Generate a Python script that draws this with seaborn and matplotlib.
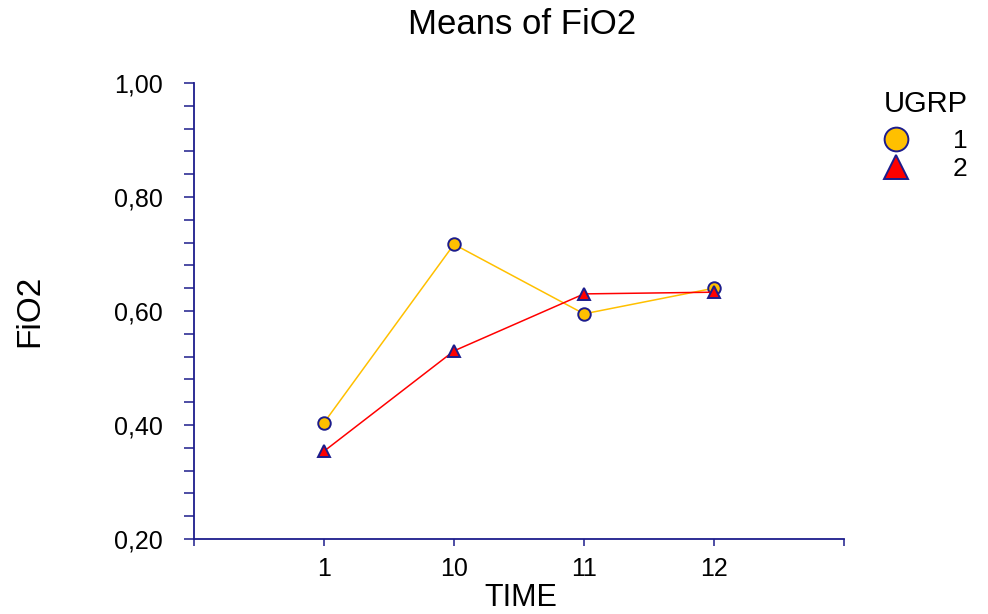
import matplotlib
matplotlib.use("Agg")
import matplotlib.pyplot as plt
from matplotlib.ticker import MultipleLocator, FuncFormatter
import seaborn as sns
import pandas as pd

# ---- data ----
time_labels = ["1", "10", "11", "12"]
group_labels = ["1", "2"]
fio2_group1 = [0.404, 0.717, 0.595, 0.640]
fio2_group2 = [0.354, 0.530, 0.630, 0.633]

df = pd.DataFrame({
    "TIME": time_labels * 2,
    "UGRP": [group_labels[0]] * 4 + [group_labels[1]] * 4,
    "FiO2": fio2_group1 + fio2_group2,
})

sns.set_theme(style="white")
plt.rcParams["font.family"] = ["Liberation Sans", "DejaVu Sans"]
plt.rcParams["text.color"] = "black"

navy = "#1c1c8c"
palette = {"1": "#FFC000", "2": "#FF0000"}
markers = {"1": "o", "2": "^"}

fig = plt.figure(figsize=(9.88, 6.14), dpi=100)
ax = fig.add_axes([194 / 988, 1 - 539 / 614, 650 / 988, 456 / 614])

sns.lineplot(data=df, x="TIME", y="FiO2", hue="UGRP", style="UGRP",
             palette=palette, markers=markers, dashes=False, sort=False,
             markersize=9, markeredgecolor=navy, markeredgewidth=1.4,
             linewidth=1.1, ax=ax, legend=True)

ax.set_xlim(-1, 4)
ax.set_ylim(0.2, 1.0)
ax.set_xticks([-1, 0, 1, 2, 3, 4])
ax.set_xticklabels([""] + time_labels + [""])
ax.yaxis.set_major_locator(MultipleLocator(0.2))
ax.yaxis.set_minor_locator(MultipleLocator(0.04))
ax.yaxis.set_major_formatter(FuncFormatter(lambda v, p: f"{v:.2f}".replace(".", ",")))

for s in ["top", "right"]:
    ax.spines[s].set_visible(False)
for s in ["left", "bottom"]:
    ax.spines[s].set_color(navy)
    ax.spines[s].set_linewidth(1.3)

ax.tick_params(axis="y", which="both", direction="out", length=7.5, width=1.1,
               color=navy, labelsize=18, pad=15, left=True, labelcolor="black")
ax.tick_params(axis="x", which="both", direction="out", length=5, width=1.1,
               color=navy, labelsize=18, pad=8, bottom=True, labelcolor="black")

ax.set_xlabel("TIME", fontsize=22, color="black", va="center")
ax.xaxis.set_label_coords(0.503, -0.129)
ax.set_ylabel("FiO2", fontsize=24, color="black", va="center")
ax.yaxis.set_label_coords(-0.252, 0.50)

fig.text(522 / 988, 1 - 25 / 614, "Means of FiO2", fontsize=25,
         ha="center", va="center", color="black")

handles, labels = ax.get_legend_handles_labels()
for h in handles:
    h.set_linestyle("none")
leg = ax.legend(handles, labels, title="UGRP", frameon=False,
                loc="upper left", bbox_to_anchor=(884 / 988, 1 - 90 / 614),
                bbox_transform=fig.transFigure, fontsize=19, markerscale=1.9,
                handletextpad=1.7, handlelength=0.9, labelspacing=0.15,
                borderaxespad=0, borderpad=0)
leg.get_title().set_fontsize(21)
leg.get_title().set_color("black")
for t in leg.get_texts():
    t.set_color("black")
leg._legend_box.align = "left"
leg._legend_box.sep = 8

fig.savefig("out.png", dpi=100)
